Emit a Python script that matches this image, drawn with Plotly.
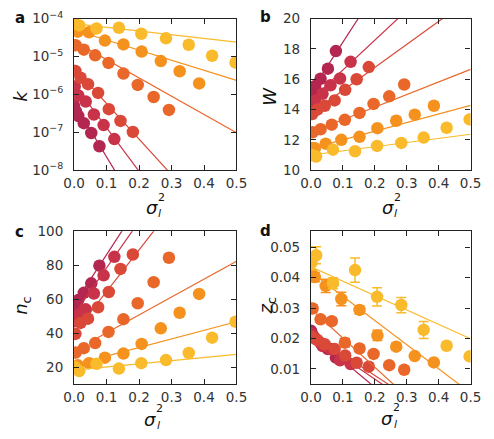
import plotly.graph_objects as go

W_PX, H_PX = 494, 439

colors = ["#b3264f", "#c93349", "#da4838", "#ea672a", "#f5921e", "#f9bb2b"]

# sigma_l^2 values per series
sig_s1 = [0.0, 0.006, 0.013, 0.03, 0.053, 0.078]
sig_s2 = [0.002, 0.013, 0.036, 0.061, 0.091, 0.124]
sig_s3 = [0.004, 0.02, 0.043, 0.074, 0.107, 0.143, 0.181]
sig_s4 = [0.005, 0.03, 0.065, 0.106, 0.152, 0.196, 0.245, 0.292]
sig_s5 = [0.003, 0.012, 0.046, 0.095, 0.152, 0.208, 0.267, 0.325, 0.385]
sig_s6 = [0.002, 0.016, 0.069, 0.138, 0.207, 0.283, 0.353, 0.425, 0.497]

# panel a: log10 k
logk_s1 = [-6.30, -6.45, -6.57, -6.76, -7.02, -7.37]
logk_s2 = [-5.79, -6.03, -6.19, -6.53, -6.81, -7.18]
logk_s3 = [-5.38, -5.56, -5.73, -5.96, -6.39, -6.70, -6.99]
logk_s4 = [-4.70, -4.82, -4.97, -5.17, -5.45, -5.75, -6.07, -6.41]
logk_s5 = [-4.30, -4.345, -4.36, -4.58, -4.68, -4.87, -5.12, -5.39, -5.71]
logk_s6 = [-4.13, -4.18, -4.26, -4.24, -4.40, -4.52, -4.69, -4.98, -5.16]

# panel b: W
W_s1 = [15.1, 15.46, 15.55, 16.03, 16.70, 17.86]
W_s2 = [14.5, 14.6, 15.04, 15.6, 16.05, 17.15]
W_s3 = [13.7, 14.0, 14.25, 14.6, 15.3, 16.0, 16.8]
W_s4 = [12.5, 12.7, 13.0, 13.32, 13.78, 14.37, 14.87, 15.65]
W_s5 = [11.45, 11.45, 11.75, 12.0, 12.2, 12.77, 13.26, 13.66, 14.25]
W_s6 = [11.0, 10.9, 11.35, 11.25, 11.6, 11.8, 12.15, 12.8, 13.35]

# panel c: n_c
n_s1 = [54, 57, 59.5, 63.7, 69.3, 79.7]
n_s2 = [47, 50.5, 54, 63.3, 74, 84.9]
n_s3 = [39.5, 46, 48.5, 55.2, 64.2, 77.8, 86.3]
n_s4 = [28.5, 31.1, 34.1, 40.7, 48.2, 57.6, 70, 84.4]
n_s5 = [19.5, 21, 22.3, 25.5, 27.9, 33.6, 42.8, 52, 63.1]
n_s6 = [20, 17.6, 21.9, 19.1, 22.3, 24.1, 28.3, 37.3, 46.7]

# panel d: z_c and errors
z_s1 = [0.0225, 0.021, 0.020, 0.0185, 0.0165, 0.0137]
z_s2 = [0.0215, 0.020, 0.0175, 0.0165, 0.0128, 0.0116]
z_s3 = [0.0205, 0.0195, 0.0181, 0.0165, 0.0144, 0.012, 0.0107]
z_s4 = [0.0299, 0.0263, 0.0257, 0.0186, 0.0167, 0.0149, 0.0112, 0.0097]
z_s5 = [0.041, 0.0402, 0.0373, 0.033, 0.0294, 0.021, 0.0173, 0.0142, 0.0121]
z_s6 = [0.045, 0.0474, 0.0382, 0.0425, 0.0337, 0.031, 0.0228, 0.0176, 0.0141]
zerr_s1 = [0.0007, 0.0007, 0.0007, 0.0007, 0.0007, 0.0007]
zerr_s2 = [0.0007, 0.0007, 0.0007, 0.0007, 0.0007, 0.0007]
zerr_s3 = [0.0008, 0.0008, 0.0007, 0.0007, 0.0007, 0.0006, 0.0008]
zerr_s4 = [0.0012, 0.001, 0.001, 0.0014, 0.0011, 0.0008, 0.0007, 0.0006]
zerr_s5 = [0.0015, 0.0015, 0.0022, 0.0022, 0.0013, 0.0017, 0.0011, 0.0007, 0.0008]
zerr_s6 = [0.0025, 0.0028, 0.0018, 0.004, 0.003, 0.0025, 0.0028, 0.0009, 0.0008]

# linear fits (intercept, slope) per series; panel a in log10(k)
fitA_int = [-6.23, -5.73, -5.30, -4.60, -4.30, -4.134]
fitA_slope = [-14.2, -11.5, -9.4, -4.82, -2.66, -0.97]
fitB_int = [15.2, 14.64, 13.74, 12.5, 11.43, 11.0]
fitB_slope = [32.5, 19.7, 15.2, 8.3, 5.7, 2.74]
fitC_int = [56.8, 51.0, 40.0, 29.6, 21.4, 18.2]
fitC_slope = [294, 274, 245, 105.5, 50.6, 18.6]
fitC_x0 = [0.0, 0.0, 0.0, 0.06, 0.10, 0.015]
fitD_int = [0.0215, 0.021, 0.0215, 0.0297, 0.0418, 0.0436]
fitD_slope = [-0.088, -0.072, -0.0685, -0.096, -0.0795, -0.0474]

sig_all = [sig_s1, sig_s2, sig_s3, sig_s4, sig_s5, sig_s6]
logk_all = [logk_s1, logk_s2, logk_s3, logk_s4, logk_s5, logk_s6]
W_all = [W_s1, W_s2, W_s3, W_s4, W_s5, W_s6]
n_all = [n_s1, n_s2, n_s3, n_s4, n_s5, n_s6]
z_all = [z_s1, z_s2, z_s3, z_s4, z_s5, z_s6]
zerr_all = [zerr_s1, zerr_s2, zerr_s3, zerr_s4, zerr_s5, zerr_s6]

fig = go.Figure()
MS = 12.5
LW = 1.2

def add_series(xa, ya, i, xs, ys, fx, fy, err=None):
    fig.add_trace(go.Scatter(x=fx, y=fy, mode="lines", xaxis=xa, yaxis=ya,
                             line=dict(color=colors[i], width=LW), showlegend=False,
                             hoverinfo="skip"))
    kw = {}
    if err is not None:
        kw["error_y"] = dict(type="data", array=err, visible=True, color=colors[i],
                             thickness=1.5, width=5)
    fig.add_trace(go.Scatter(x=xs, y=ys, mode="markers", xaxis=xa, yaxis=ya,
                             marker=dict(color=colors[i], size=MS, line=dict(width=0)),
                             showlegend=False, **kw))

for i in range(6):
    xs = sig_all[i]
    fx = [0.0, 0.5]
    fy = [10 ** (fitA_int[i] + fitA_slope[i] * v) for v in fx]
    add_series("x", "y", i, xs, [10 ** v for v in logk_all[i]], fx, fy)
    fy = [fitB_int[i] + fitB_slope[i] * v for v in fx]
    add_series("x2", "y2", i, xs, W_all[i], fx, fy)
    fxc = [fitC_x0[i], 0.5]
    fy = [fitC_int[i] + fitC_slope[i] * v for v in fxc]
    add_series("x3", "y3", i, xs, n_all[i], fxc, fy)
    fy = [fitD_int[i] + fitD_slope[i] * v for v in fx]
    add_series("x4", "y4", i, xs, z_all[i], fx, fy, err=zerr_all[i])

def px_x(p):
    return p / W_PX

def px_y(p):
    return 1 - p / H_PX

tickfont = dict(family="DejaVu Sans", size=13.5, color="#333")
common = dict(showline=True, linecolor="#222", linewidth=1.2, mirror="allticks",
              ticks="inside", ticklen=5, tickwidth=1, tickcolor="#222",
              showgrid=False, zeroline=False, tickfont=tickfont)

xticks = [0.0, 0.1, 0.2, 0.3, 0.4, 0.5]
xtext = ["0.0", "0.1", "0.2", "0.3", "0.4", "0.5"]

left = [66, 236]
right = [314, 481]
top = [9, 167]
bottom = [230.7, 390]

def xdom(r):
    return [px_x(r[0]), px_x(r[1])]

def ydom(r):
    return [px_y(r[1]), px_y(r[0])]

xcommon = dict(common, range=[0, 0.5], tickvals=xticks, ticktext=xtext, ticklabelstandoff=1)
ycommon = dict(common, ticklabelstandoff=7)

fig.update_layout(
    width=W_PX, height=H_PX, margin=dict(l=0, r=0, t=0, b=0),
    paper_bgcolor="white", plot_bgcolor="white",
    xaxis=dict(xcommon, domain=xdom(left), anchor="y"),
    yaxis=dict(ycommon, domain=ydom(top), anchor="x", type="log", range=[-8, -4],
               tickvals=[1e-8, 1e-7, 1e-6, 1e-5, 1e-4],
               ticktext=["10<sup>−8</sup>", "10<sup>−7</sup>", "10<sup>−6</sup>",
                         "10<sup>−5</sup>", "10<sup>−4</sup>"]),
    xaxis2=dict(xcommon, domain=xdom(right), anchor="y2"),
    yaxis2=dict(ycommon, domain=ydom(top), anchor="x2", range=[10, 20],
                tickvals=[10, 12, 14, 16, 18, 20]),
    xaxis3=dict(xcommon, domain=xdom(left), anchor="y3"),
    yaxis3=dict(ycommon, domain=ydom(bottom), anchor="x3", range=[10, 100],
                tickvals=[20, 40, 60, 80, 100]),
    xaxis4=dict(xcommon, domain=xdom(right), anchor="y4"),
    yaxis4=dict(ycommon, domain=ydom(bottom), anchor="x4", range=[0.005, 0.0553],
                tickvals=[0.01, 0.02, 0.03, 0.04, 0.05],
                ticktext=["0.01", "0.02", "0.03", "0.04", "0.05"]),
)

ann = []
def add_text(px, py, text, size, angle=0, bold=False):
    t = f"<b>{text}</b>" if bold else text
    ann.append(dict(x=px_x(px), y=px_y(py), xref="paper", yref="paper", text=t,
                    showarrow=False, xanchor="center", yanchor="middle", textangle=angle,
                    font=dict(family="DejaVu Sans", size=size, color="#111")))

for lab, (px, py) in zip(["a", "b", "c", "d"], [(9, 8), (266, 7), (9, 231), (266, 230)]):
    add_text(px, py, lab, 15, bold=True)

for (px, py) in [(147.5, 206), (394.5, 206), (146, 427), (394, 426)]:
    add_text(px, py, "<i>σ</i>", 18)
    add_text(px + 9.5, py - 11, "2", 11)
    add_text(px + 8, py + 6, "<i>l</i>", 11)

add_text(10, 90, "<i>k</i>", 18, angle=-90)
add_text(270.5, 90, "<i>W</i>", 18, angle=-90)
add_text(12, 308, "<i>n</i><sub>c</sub>", 18, angle=-90)
add_text(268, 309, "<i>z</i><sub>c</sub>", 18, angle=-90)

fig.update_layout(annotations=ann)

fig.write_html("out.html",
               post_script="document.body.style.margin='0px';document.body.style.overflow='hidden';")
